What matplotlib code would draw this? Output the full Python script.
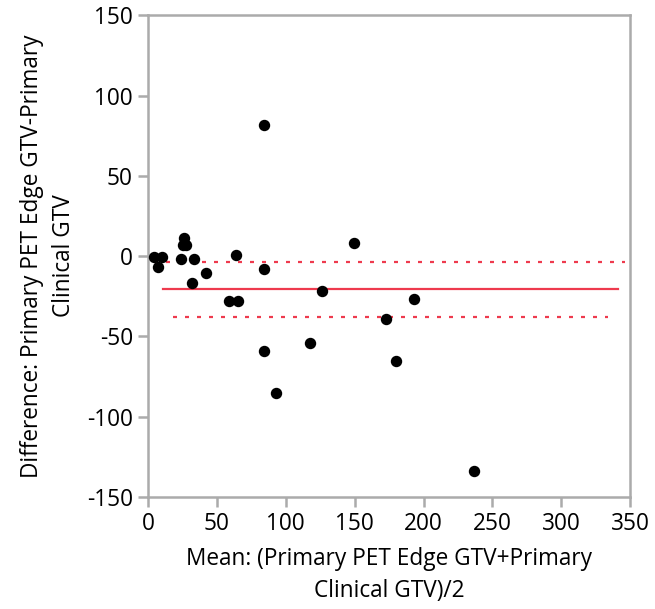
import numpy as np
import matplotlib
matplotlib.use('Agg')
import matplotlib.pyplot as plt

plt.rcParams['font.family'] = ['Open Sans', 'DejaVu Sans']
plt.rcParams['axes.unicode_minus'] = False

# mean of the two GTVs and their difference
mean_gtv = [4.4, 10.2, 7.0, 25.9, 25.5, 27.5, 24.2, 33.2, 31.7, 41.9,
            63.7, 59.0, 65.5, 84.0, 84.0, 84.0, 92.7, 117.4, 126.0, 149.6,
            172.6, 180.1, 193.0, 236.5]
diff_gtv = [-0.4, -0.4, -7.0, 11.0, 6.7, 6.7, -2.0, -2.0, -16.6, -10.4,
            0.6, -27.8, -27.8, 81.4, -8.1, -58.9, -85.3, -54.1, -21.8, 7.9,
            -39.4, -65.3, -26.9, -133.8]

mean_diff = -20.6
ci_upper = -3.5
ci_lower = -37.8

x_ticks = [0, 50, 100, 150, 200, 250, 300, 350]
y_ticks = [-150, -100, -50, 0, 50, 100, 150]

red = '#ee3a4e'
grey = '#ababab'
fs = 16.3

fig = plt.figure(figsize=(6.55, 6.09), dpi=100)
ax = fig.add_axes([0.226, 0.184, 0.736, 0.791])

ax.plot([11, 341], [mean_diff, mean_diff], color=red, lw=1.6)
ax.plot([4, 346], [ci_upper, ci_upper], color=red, lw=1.6, ls=(0, (1.8, 3.6)))
ax.plot([18, 334], [ci_lower, ci_lower], color=red, lw=1.6, ls=(0, (1.8, 3.6)))
ax.plot(mean_gtv, diff_gtv, 'o', color='black', ms=7.2, zorder=3)

ax.set_xlim(0, 350)
ax.set_ylim(-150, 150)
ax.set_xticks(x_ticks)
ax.set_yticks(y_ticks)

for s in ax.spines.values():
    s.set_color(grey)
    s.set_linewidth(1.8)
ax.tick_params(direction='out', length=7, width=1.8, color=grey,
               labelsize=fs, pad=4)

ax.set_xlabel('Mean: (Primary PET Edge GTV+Primary\nClinical GTV)/2',
              fontsize=fs, labelpad=8, linespacing=1.45)
ax.set_ylabel('Difference: Primary PET Edge GTV-Primary\nClinical GTV',
              fontsize=fs, labelpad=8, linespacing=1.45)

fig.savefig('out.png', dpi=100)
